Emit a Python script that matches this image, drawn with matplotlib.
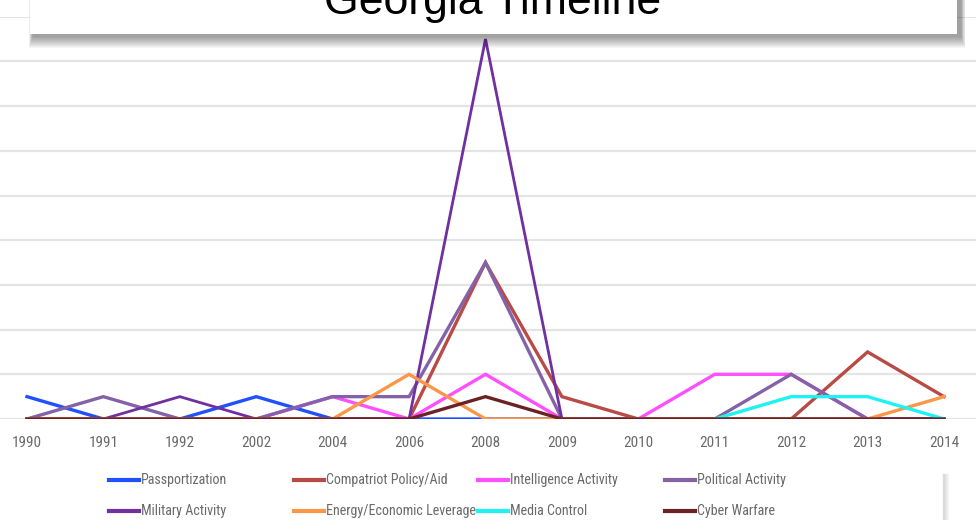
import numpy as np
import matplotlib
matplotlib.use("Agg")
import matplotlib.pyplot as plt
from matplotlib import font_manager as fm
from matplotlib.patches import Rectangle
from matplotlib.lines import Line2D

# --- data -------------------------------------------------------------
years = ["1990", "1991", "1992", "2002", "2004", "2006", "2008",
         "2009", "2010", "2011", "2012", "2013", "2014"]

passportization = [1, 0, 0, 1, 0, 0, 0, 0, 0, 0, 0, 0, 0]
compatriot_aid  = [0, 0, 0, 0, 0, 0, 7, 1, 0, 0, 0, 3, 1]
intelligence    = [0, 0, 0, 0, 1, 0, 2, 0, 0, 2, 2, 0, 0]
political       = [0, 1, 0, 0, 1, 1, 7, 0, 0, 0, 2, 0, 0]
military        = [0, 0, 1, 0, 0, 0, 17, 0, 0, 0, 0, 0, 0]
energy          = [0, 0, 0, 0, 0, 2, 0, 0, 0, 0, 0, 0, 1]
media_control   = [None, None, None, None, None, None, None,
                   None, None, 0, 1, 1, 0]
cyber_warfare   = [0, 0, 0, 0, 0, 0, 1, 0, 0, 0, 0, 0, 0]

series_labels = ["Passportization", "Compatriot Policy/Aid", "Intelligence Activity",
                 "Political Activity", "Military Activity", "Energy/Economic Leverage",
                 "Media Control", "Cyber Warfare"]
series_values = [passportization, compatriot_aid, intelligence, political,
                 military, energy, media_control, cyber_warfare]
series_colors = ["#2150ff", "#b94a45", "#ff4fff", "#8462a8",
                 "#7030a0", "#fb9748", "#1ef2f2", "#6a2222"]
series_widths = [2.4, 2.4, 2.4, 2.4, 2.0, 2.4, 2.4, 2.4]

title = "Georgia Timeline"


# --- fonts ------------------------------------------------------------
def narrow_font():
    """Return FontProperties for a condensed sans face, if one is installed."""
    entries = fm.fontManager.ttflist
    prefs = ["Liberation Sans Narrow", "Arial Narrow", "Roboto Condensed",
             "DejaVu Sans Condensed", "Open Sans Condensed"]
    for p in prefs:
        for f in entries:
            if f.name == p and f.weight in (400, "normal", "regular") and f.style == "normal":
                return fm.FontProperties(fname=f.fname)
    cands = []
    for f in entries:
        tag = (f.name + " " + str(f.stretch) + " " + f.fname).lower()
        if ("condensed" in tag or "narrow" in tag) and f.style == "normal" \
                and "semi" not in tag and "extra" not in tag and "ultra" not in tag \
                and f.weight in (400, "normal", "regular"):
            cands.append(f)
    order = ["liberation", "roboto", "dejavu", "open", "noto"]
    cands.sort(key=lambda f: next((i for i, o in enumerate(order) if o in f.fname.lower()), 99))
    if cands:
        return fm.FontProperties(fname=cands[0].fname)
    return fm.FontProperties(family="DejaVu Sans")


NARROW = narrow_font()

# --- figure -----------------------------------------------------------
W, H = 976, 520
fig = plt.figure(figsize=(W / 100, H / 100), dpi=100)
fig.patch.set_facecolor("white")


def fx(px):
    return px / W


def fy(py):
    return 1 - py / H


# axes spanning full width; y=0 at pixel 419, y=18 at pixel ~17
ax = fig.add_axes([0, fy(419), 1, (419 - 16.7) / H])
x = np.arange(len(years))
for vals, col, lw in zip(series_values, series_colors, series_widths):
    y = np.array([np.nan if v is None else v for v in vals], dtype=float)
    ax.plot(x, y, color=col, lw=lw, solid_joinstyle="miter", zorder=3)

ax.set_xlim(-27 / 76.42, 12 + 32 / 76.42)
ax.set_ylim(0, 18)
ax.set_yticks(np.arange(0, 19, 2))
ax.yaxis.grid(True, color="#e4e4e4", lw=1.6, zorder=0)
ax.set_axisbelow(True)
ax.tick_params(axis="y", left=False, labelleft=False)
ax.set_xticks(x)
ax.set_xticklabels(years, fontproperties=NARROW, color="#6a6a6a")
ax.tick_params(axis="x", length=0, pad=12)
for s in ax.spines.values():
    s.set_visible(False)
ax.patch.set_alpha(0)

# --- legend (two rows x four columns) ---------------------------------
col_x = [109, 294, 478, 665]
row_y = [480, 511]
legend_texts = []
for i, (lab, col) in enumerate(zip(series_labels, series_colors)):
    r, c = divmod(i, 4)
    x0 = col_x[c]
    yy = row_y[r]
    fig.add_artist(Line2D([fx(x0), fx(x0 + 30)], [fy(yy), fy(yy)],
                          color=col, lw=3, transform=fig.transFigure))
    t = fig.text(fx(x0 + 32), fy(yy), lab, fontproperties=NARROW,
                 color="#6a6a6a", va="center", ha="left")
    legend_texts.append(t)

# --- title box with soft drop shadow ----------------------------------
bx0, bx1, by0, by1 = 30, 957, -20, 34
for k in range(12, 0, -1):
    fig.add_artist(Rectangle((fx(bx0 + 3 - k * 0.35), fy(by1 + 2 + k)),
                             fx(bx1 - bx0 + 1 + k * 0.7), (by1 - by0) / H,
                             transform=fig.transFigure, facecolor="black",
                             edgecolor="none", alpha=0.035, zorder=9))
fig.add_artist(Rectangle((fx(bx0), fy(by1)), fx(bx1 - bx0), (by1 - by0) / H,
                         transform=fig.transFigure, facecolor="white",
                         edgecolor="none", zorder=10))
title_t = fig.text(fx(493), fy(14), title, family=["Liberation Sans", "DejaVu Sans"],
                   fontsize=31, color="black", ha="center", va="baseline", zorder=11)

# --- edge of a neighbouring panel at lower right -----------------------
for k in range(6):
    fig.add_artist(Line2D([fx(943 + k), fx(943 + k)], [fy(474), fy(520)],
                          color="black", alpha=0.12 - k * 0.018, lw=1,
                          transform=fig.transFigure))


# --- size the text so the rendered widths suit the layout --------------
def fit_width(artists, sample, target_px):
    fig.canvas.draw()
    rend = fig.canvas.get_renderer()
    w = sample.get_window_extent(rend).width
    scale = target_px / w
    for a in artists:
        a.set_fontsize(a.get_fontsize() * scale)


ticklabels = ax.get_xticklabels()
fit_width(ticklabels, ticklabels[0], 30)
fit_width(legend_texts, legend_texts[5], 150)
fit_width([title_t], title_t, 337)

fig.savefig("out.png", dpi=100, facecolor="white")
